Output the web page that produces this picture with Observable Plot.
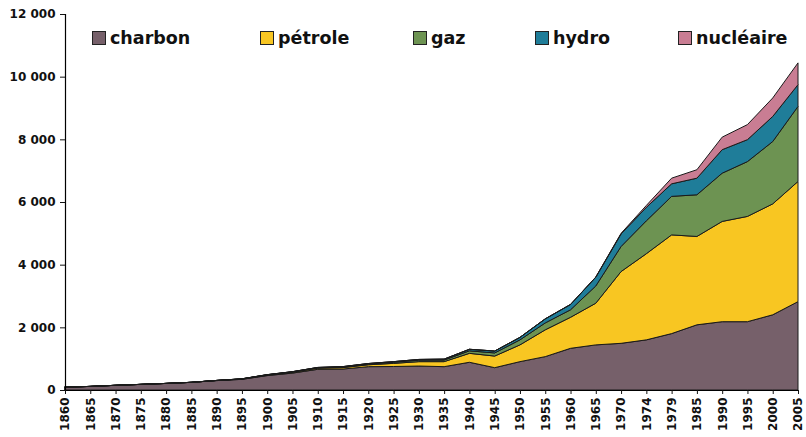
<!DOCTYPE html>
<html><head><meta charset="utf-8">
<script src="https://cdn.jsdelivr.net/npm/d3@7"></script>
<script src="https://cdn.jsdelivr.net/npm/@observablehq/plot@0.6"></script>
<style>
body{margin:0;background:#fff;}
#wrap{position:relative;width:806px;height:437px;font-family:"DejaVu Sans",sans-serif;}
.leg{position:absolute;top:28px;display:flex;align-items:center;font-weight:bold;font-size:17.5px;color:#111;line-height:20px;}
.sw{width:12px;height:12px;border:1px solid #222;margin-right:4px;}
</style></head><body><div id="wrap"></div>
<script>
const years = ["1860","1865","1870","1875","1880","1885","1890","1895","1900","1905","1910","1915","1920","1925","1930","1935","1940","1945","1950","1955","1960","1965","1970","1974","1979","1985","1990","1995","2000","2005"];
const charbon   = [90,115,150,180,210,245,300,340,460,540,660,670,745,750,765,745,885,713,905,1065,1330,1440,1490,1600,1800,2080,2180,2180,2400,2820];
const petrole   = [0,0,0,0,0,0,5,10,15,25,35,45,60,100,140,160,285,370,535,855,990,1330,2290,2750,3150,2820,3200,3360,3540,3835];
const gaz       = [0,0,0,0,0,0,0,5,10,12,15,20,25,35,45,50,80,100,160,220,240,550,800,1050,1230,1330,1540,1750,1990,2395];
const hydro     = [0,0,0,0,0,0,0,2,5,8,10,12,15,20,25,30,50,60,80,130,170,280,400,430,400,530,750,700,800,695];
const nucleaire = [0,0,0,0,0,0,0,0,0,0,0,0,0,0,0,0,0,0,0,0,0,5,20,60,180,270,400,480,590,695];
const names  = ["charbon","pétrole","gaz","hydro","nucléaire"];
const colors = ["#76606a","#f8c622","#6d9352","#1f7d99","#c97d93"];
const yTicks = [0,2000,4000,6000,8000,10000,12000];

const seriesVals = [charbon, petrole, gaz, hydro, nucleaire];
const rows = names.flatMap((n, k) => years.map((y, i) => ({year: y, energie: n, valeur: seriesVals[k][i]})));
const fmt = d => d === 0 ? "0" : d3.format(",")(d).replace(/,/g, " ");

const chart = Plot.plot({
  width: 806, height: 437,
  marginLeft: 65, marginRight: 8, marginTop: 14, marginBottom: 47,
  style: {fontFamily: "DejaVu Sans", fontWeight: "bold", fontSize: "12px", color: "#111", background: "white", overflow: "visible"},
  x: {type: "point", domain: years, padding: 0, round: false},
  y: {domain: [0, 12000]},
  color: {domain: names, range: colors},
  marks: [
    Plot.ruleY(yTicks.filter(d => d > 0 && d < 12000), {stroke: "#d8d0d0", strokeWidth: 1.5, x1: years[0], x2: years[years.length - 1], insetRight: 3}),
    Plot.areaY(rows, {x: "year", y: "valeur", fill: "energie", stroke: "#1a1a1a", strokeWidth: 1, strokeLinejoin: "round"}),
    Plot.ruleX([years[0]], {stroke: "#000", strokeWidth: 1.2}),
    Plot.ruleY([0], {stroke: "#000", strokeWidth: 1.2}),
    Plot.axisY({ticks: yTicks, tickFormat: fmt, tickSize: 5, tickPadding: 5, label: null}),
    Plot.axisX({tickRotate: -90, tickSize: 4, tickPadding: 3, label: null})
  ]
});
const wrap = document.getElementById("wrap");
wrap.appendChild(chart);
const legPos = [92, 260, 413, 535, 678];
names.forEach((n, i) => {
  const d = document.createElement("div");
  d.className = "leg";
  d.style.left = legPos[i] + "px";
  const s = document.createElement("span");
  s.className = "sw";
  s.style.background = colors[i];
  d.appendChild(s);
  d.appendChild(document.createTextNode(n));
  wrap.appendChild(d);
});
</script></body></html>
